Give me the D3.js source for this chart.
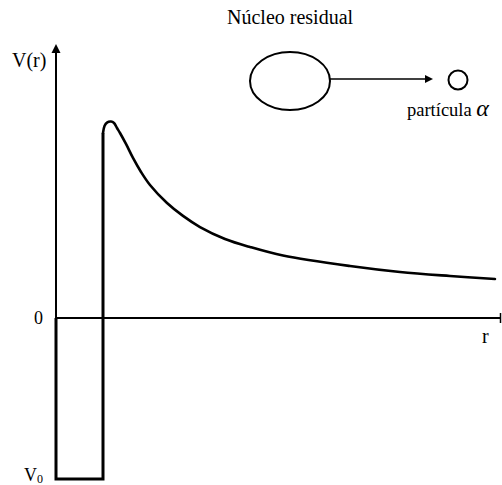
<!DOCTYPE html>
<html>
<head>
<meta charset="utf-8">
<script src="https://cdn.jsdelivr.net/npm/d3@7"></script>
<style>
  body { margin: 0; background: #fff; }
  svg text { font-family: "Liberation Serif", "Times New Roman", serif; fill: #000; }
</style>
</head>
<body>
<svg id="chart" width="502" height="485"></svg>
<script>
const svg = d3.select('#chart');

// r in units of the nuclear radius R, V in units of |V0|
const wellR = [0, 0, 1, 1];
const wellV = [0, -1, -1, 1.149];

const barrierR = [1, 1.032, 1.085, 1.17, 1.234, 1.298, 1.362, 1.489, 1.638, 1.809, 2.0,
                  2.362, 2.702, 3.064, 3.596, 4.128, 4.83, 6.255, 7.319, 8.383, 9.34];
const barrierV = [1.149, 1.193, 1.214, 1.22, 1.211, 1.18, 1.149, 1.081, 0.994, 0.907, 0.826,
                  0.714, 0.634, 0.565, 0.491, 0.441, 0.388, 0.323, 0.286, 0.261, 0.242];

const tickValues = [0, -1];
const tickLabels = ['0', 'V0'];

const x = d3.scaleLinear().domain([0, 9.5]).range([56, 502.5]);
const y = d3.scaleLinear().domain([-1, 1.2]).range([479, 124.8]);

const line = d3.line().x(d => x(d[0])).y(d => y(d[1]));

// axes
svg.append('path')
    .attr('d', d3.line()([[x(0), y(0)], [x(0), 52]]))
    .attr('stroke', 'black')
    .attr('stroke-width', 2);
svg.append('path')
    .attr('d', 'M' + x(0) + ',44 L' + (x(0) - 4.5) + ',53 L' + (x(0) + 4.5) + ',53 Z')
    .attr('fill', 'black');

svg.append('path')
    .attr('d', d3.line()([[x(0), y(0)], [501, y(0)]]))
    .attr('stroke', 'black')
    .attr('stroke-width', 1.8);
svg.append('path')
    .attr('d', d3.line()([[500.5, y(0) - 5], [500.5, y(0) + 5]]))
    .attr('stroke', 'black')
    .attr('stroke-width', 1.5);

// well
svg.append('path')
    .attr('d', line(d3.zip(wellR, wellV)))
    .attr('fill', 'none')
    .attr('stroke', 'black')
    .attr('stroke-width', 3)
    .attr('stroke-linejoin', 'miter');

// coulomb barrier
svg.append('path')
    .attr('d', line.curve(d3.curveCatmullRom)(d3.zip(barrierR, barrierV)))
    .attr('fill', 'none')
    .attr('stroke', 'black')
    .attr('stroke-width', 2.6)
    .attr('stroke-linecap', 'round');

// labels
svg.append('text').attr('x', 12).attr('y', 67).attr('font-size', 20).text('V(r)');

const ticks = svg.selectAll('.tick-label')
    .data(tickValues)
    .enter()
    .append('text')
    .attr('class', 'tick-label')
    .attr('x', 43)
    .attr('y', d => y(d) + 5.5)
    .attr('text-anchor', 'end')
    .attr('font-size', 18);
ticks.each(function(d, i) {
    const t = d3.select(this);
    const lab = tickLabels[i];
    if (lab.length > 1) {
        t.attr('y', y(d) + 1.5);
        t.append('tspan').text(lab[0]);
        t.append('tspan').attr('font-size', 12).attr('dy', 2).text(lab.slice(1));
    } else {
        t.text(lab);
    }
});

svg.append('text').attr('x', 482).attr('y', 343).attr('font-size', 20).text('r');

// schematic: residual nucleus emitting alpha particle
svg.append('text').attr('x', 227).attr('y', 24).attr('font-size', 20).text('Núcleo residual');

svg.append('ellipse')
    .attr('cx', 290).attr('cy', 81).attr('rx', 40).attr('ry', 29)
    .attr('fill', 'none').attr('stroke', 'black').attr('stroke-width', 2);

svg.append('path')
    .attr('d', d3.line()([[330, 79], [426, 79]]))
    .attr('stroke', 'black')
    .attr('stroke-width', 1.3);
svg.append('path')
    .attr('d', 'M433,79 L425,75 L425,83 Z')
    .attr('fill', 'black');

svg.append('circle')
    .attr('cx', 458).attr('cy', 80).attr('r', 9.5)
    .attr('fill', 'none').attr('stroke', 'black').attr('stroke-width', 2);

const pt = svg.append('text').attr('x', 407).attr('y', 116).attr('font-size', 18.5);
pt.append('tspan').text('partícula ');
pt.append('tspan').attr('font-style', 'italic').attr('font-size', 24).text('α');
</script>
</body>
</html>
